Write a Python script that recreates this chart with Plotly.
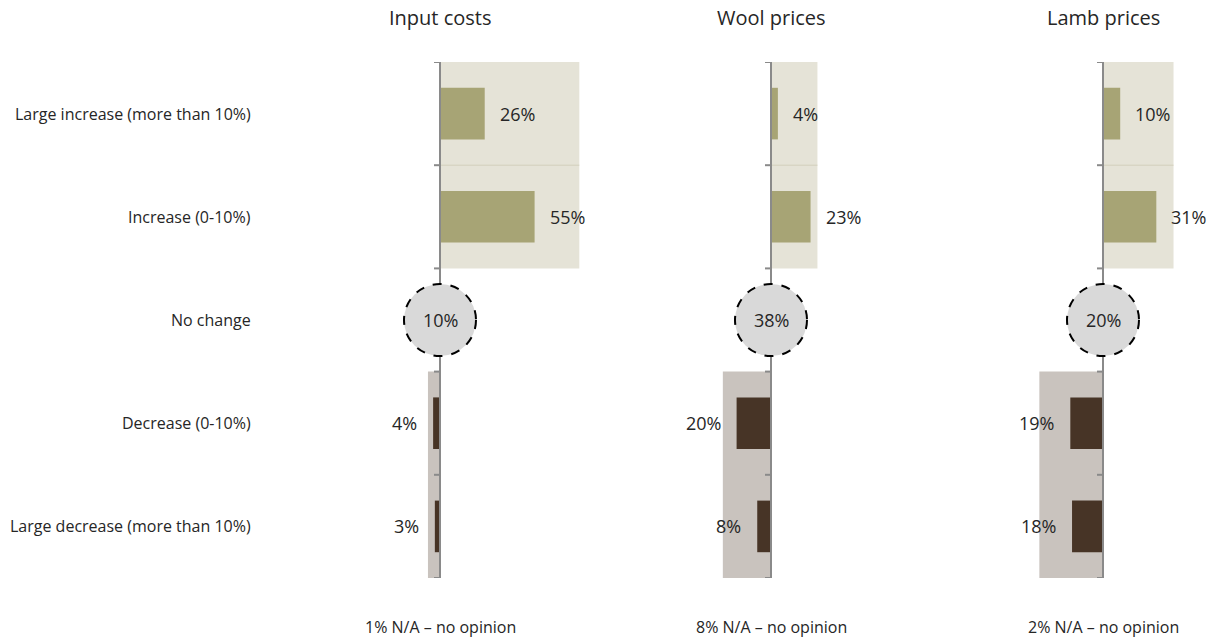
import plotly.graph_objects as go

# ---- data ----
panels = ["Input costs", "Wool prices", "Lamb prices"]
categories = ["Large increase (more than 10%)", "Increase (0-10%)", "No change",
              "Decrease (0-10%)", "Large decrease (more than 10%)"]
large_increase = [26, 4, 10]
increase = [55, 23, 31]
no_change = [10, 38, 20]
decrease = [4, 20, 19]
large_decrease = [3, 8, 18]
na_share = [1, 8, 2]

# ---- layout constants ----
W, H = 1211, 639
S = 1.72                      # pixels per percentage point
centers = [440, 771, 1103]
dom_px = [(290, 620), (625, 950), (955, 1211)]
y_top, y_bot = 62, 578

C_UP_BG = "#E5E3D7"
C_UP_BAR = "#A7A475"
C_DN_BG = "#C9C3BE"
C_DN_BAR = "#473426"
C_AXIS = "#8A8A8A"
C_TEXT = "#262626"
FONT = "Open Sans"

fig = go.Figure()
shapes = []
annotations = []

for k in range(3):
    xname = "x" if k == 0 else f"x{k+1}"
    axname = "xaxis" if k == 0 else f"xaxis{k+1}"
    d0, d1 = dom_px[k]
    c = centers[k]
    fig.update_layout(**{axname: dict(domain=[d0 / W, d1 / W],
                                      range=[(d0 - c) / S, (d1 - c) / S],
                                      visible=False, fixedrange=True,
                                      anchor="y")})

    up_vals = [large_increase[k], increase[k]]
    dn_vals = [decrease[k], large_decrease[k]]

    # background panels
    shapes.append(dict(type="rect", xref=xname, yref="y", x0=0, x1=sum(up_vals),
                       y0=-0.5, y1=1.5, fillcolor=C_UP_BG, line=dict(width=0),
                       layer="below"))
    shapes.append(dict(type="line", xref=xname, yref="y", x0=0, x1=sum(up_vals),
                       y0=0.5, y1=0.5, line=dict(color="#D3D0BC", width=1),
                       layer="below"))
    shapes.append(dict(type="rect", xref=xname, yref="y", x0=-sum(dn_vals), x1=0,
                       y0=2.5, y1=4.5, fillcolor=C_DN_BG, line=dict(width=0),
                       layer="below"))

    # bars
    fig.add_trace(go.Bar(x=up_vals, y=[0, 1], orientation="h", width=0.5,
                         marker=dict(color=C_UP_BAR, line=dict(width=0)),
                         xaxis=xname, yaxis="y", showlegend=False,
                         hoverinfo="skip"))
    fig.add_trace(go.Bar(x=[-v for v in dn_vals], y=[3, 4], orientation="h",
                         width=0.5,
                         marker=dict(color=C_DN_BAR, line=dict(width=0)),
                         xaxis=xname, yaxis="y", showlegend=False,
                         hoverinfo="skip"))

    # axis line and ticks
    shapes.append(dict(type="line", xref=xname, yref="y", x0=0, x1=0,
                       y0=-0.5, y1=4.5, line=dict(color=C_AXIS, width=2),
                       layer="above"))
    for yb in [-0.5, 0.5, 1.5, 2.5, 3.5, 4.5]:
        shapes.append(dict(type="line", xref=xname, yref="y",
                           xsizemode="pixel", xanchor=0, x0=-6, x1=0,
                           y0=yb, y1=yb, line=dict(color=C_AXIS, width=2),
                           layer="above"))

    # no-change circle
    shapes.append(dict(type="circle", xref=xname, yref="y",
                       xsizemode="pixel", xanchor=0, x0=-36, x1=36,
                       ysizemode="pixel", yanchor=2, y0=-36, y1=36,
                       fillcolor="#D9D9D9",
                       line=dict(color="black", width=2, dash="dash"),
                       layer="above"))
    annotations.append(dict(xref=xname, yref="y", x=0, y=2,
                            text=f"{no_change[k]}%", showarrow=False,
                            font=dict(size=18, color=C_TEXT, family=FONT)))

    # value labels
    for yi, v in zip([0, 1], up_vals):
        annotations.append(dict(xref=xname, yref="y", x=v, y=yi,
                                text=f"{v}%", showarrow=False,
                                xanchor="left", xshift=13,
                                font=dict(size=18, color=C_TEXT, family=FONT)))
    for yi, v in zip([3, 4], dn_vals):
        annotations.append(dict(xref=xname, yref="y", x=-v, y=yi,
                                text=f"{v}%", showarrow=False,
                                xanchor="right", xshift=-14,
                                font=dict(size=18, color=C_TEXT, family=FONT)))

    # panel title and footnote
    annotations.append(dict(xref="paper", yref="paper", x=c / W,
                            y=(H - 17) / H,
                            text=panels[k], showarrow=False,
                            xanchor="center", yanchor="middle",
                            font=dict(size=20, color=C_TEXT, family=FONT)))
    annotations.append(dict(xref="paper", yref="paper", x=c / W,
                            y=(H - 627) / H,
                            text=f"{na_share[k]}% N/A \u2013 no opinion",
                            showarrow=False, xanchor="center", yanchor="middle",
                            font=dict(size=16, color=C_TEXT, family=FONT)))

# category labels
for i, cat in enumerate(categories):
    annotations.append(dict(xref="paper", yref="y", x=253 / W, y=i,
                            text=cat, showarrow=False, xanchor="right",
                            font=dict(size=16, color=C_TEXT, family=FONT)))

fig.update_layout(
    width=W, height=H,
    margin=dict(l=0, r=0, t=0, b=0),
    paper_bgcolor="white", plot_bgcolor="rgba(0,0,0,0)",
    barmode="overlay",
    yaxis=dict(domain=[(H - y_bot) / H, (H - y_top) / H], range=[4.5, -0.5],
               visible=False, fixedrange=True),
    shapes=shapes, annotations=annotations,
    font=dict(family=FONT, color=C_TEXT),
)

fig.write_html("out.html",
               config={"displayModeBar": False, "staticPlot": True},
               post_script="document.body.style.margin='0px';"
                           "document.body.style.overflow='hidden';")
